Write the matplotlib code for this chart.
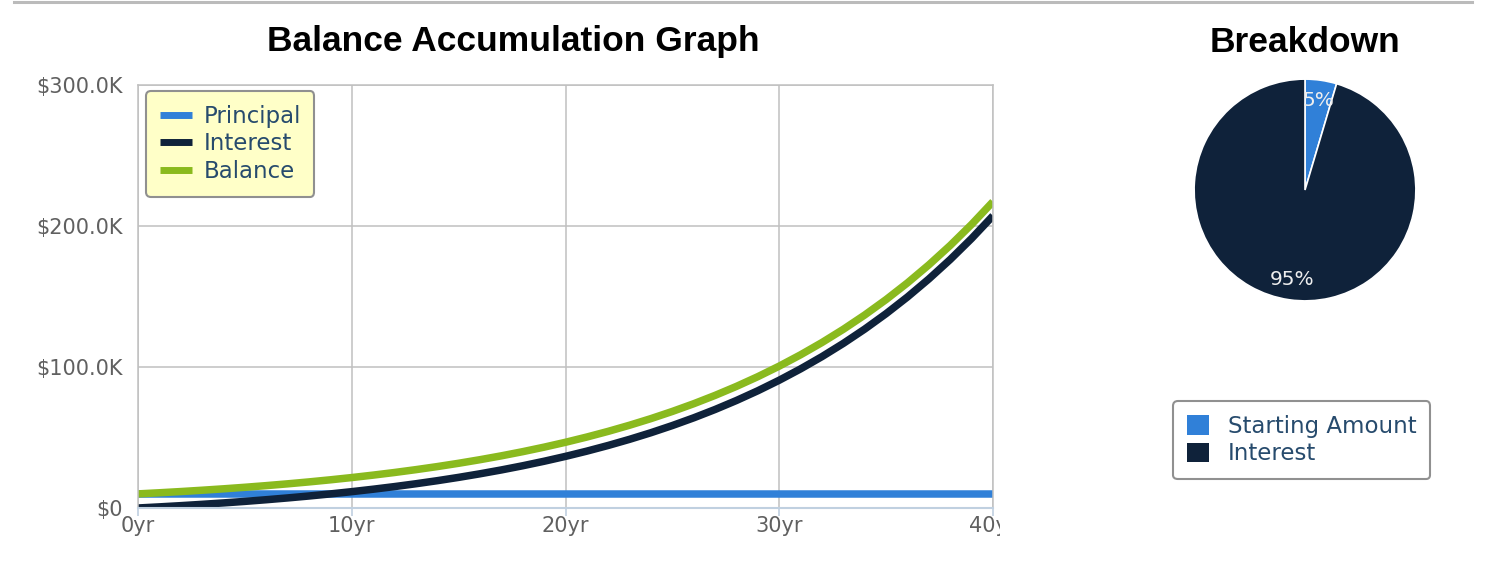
import matplotlib
matplotlib.use("Agg")
import matplotlib.pyplot as plt
from matplotlib.lines import Line2D
from matplotlib.patches import Patch
from matplotlib.transforms import Bbox, TransformedBbox

# values (one point per year)
years = list(range(0, 41))
principal = [10000] * 41
balance = [10000, 10800, 11660, 12600, 13600, 14690, 15870, 17140, 18510, 19990,
           21590, 23320, 25180, 27200, 29370, 31720, 34260, 37000, 39960, 43160,
           46610, 50340, 54370, 58720, 63410, 68490, 73960, 79880, 86270, 93170,
           100630, 108680, 117370, 126760, 136900, 147850, 159680, 172460, 186250, 201150,
           217250]
interest = [0, 800, 1660, 2600, 3600, 4690, 5870, 7140, 8510, 9990,
            11590, 13320, 15180, 17200, 19370, 21720, 24260, 27000, 29960, 33160,
            36610, 40340, 44370, 48720, 53410, 58490, 63960, 69880, 76270, 83170,
            90630, 98680, 107370, 116760, 126900, 137850, 149680, 162460, 176250, 191150,
            207250]
x_ticks = [0, 10, 20, 30, 40]
x_labels = ["0yr", "10yr", "20yr", "30yr", "40yr"]
y_ticks = [0, 100000, 200000, 300000]
y_labels = ["$0", "$100.0K", "$200.0K", "$300.0K"]

pie_labels = ["Starting Amount", "Interest"]
pie_values = [10000, 207250]

blue = "#3080d8"
navy = "#0f223a"
green = "#8aba1e"
text_blue = "#274b6d"
W, H = 1486, 588

fig = plt.figure(figsize=(W / 100, H / 100), dpi=100)
fig.add_artist(Line2D([14 / W, 1472 / W], [1 - 1.5 / H, 1 - 1.5 / H],
                      transform=fig.transFigure, color="#bbbbbb", lw=2.2))

ax = fig.add_axes([138 / W, 1 - 508 / H, (993 - 138) / W, (508 - 85) / H])
ax.plot(years, principal, color=blue, lw=5.4, label="Principal", solid_capstyle="butt")
ax.plot(years, interest, color=navy, lw=5.4, label="Interest", solid_capstyle="butt")
ax.plot(years, balance, color=green, lw=5.4, label="Balance", solid_capstyle="butt")
ax.set_xlim(0, 40)
ax.set_ylim(0, 300000)
ax.set_xticks(x_ticks)
ax.set_xticklabels(x_labels)
ax.set_yticks(y_ticks)
ax.set_yticklabels(y_labels)
ax.grid(True, color="#c0c0c0", lw=1.1)
ax.set_axisbelow(True)
for s in ["top", "right", "left"]:
    ax.spines[s].set_color("#c0c0c0")
    ax.spines[s].set_linewidth(1.1)
ax.spines["bottom"].set_color("#c0d0e0")
ax.spines["bottom"].set_linewidth(1.5)
ax.tick_params(axis="y", length=0, pad=11, labelsize=15, labelcolor="#606060")
ax.tick_params(axis="x", length=6, width=1.2, color="#c0d0e0", pad=0,
               labelsize=15, labelcolor="#606060")
# the last label is cut off at the chart's edge, as in the original
clip = TransformedBbox(Bbox([[0, 0], [1000 / W, 1]]), fig.transFigure)
for lab in ax.get_xticklabels():
    lab.set_clip_on(True)
    lab.set_clip_box(clip)

fig.text(513 / W, 1 - 42 / H, "Balance Accumulation Graph", ha="center", va="center",
         fontsize=25.5, fontweight="bold", family="Liberation Sans")

leg = ax.legend(loc="upper left", bbox_to_anchor=(146 / W, 1 - 91 / H),
                bbox_transform=fig.transFigure, borderaxespad=0, fontsize=16.5,
                labelcolor=text_blue, facecolor="#ffffc8", edgecolor="#909090",
                framealpha=1, fancybox=True, handlelength=1.4, handletextpad=0.5,
                labelspacing=0.2, borderpad=0.6)
leg.get_frame().set_linewidth(1.5)
for h in leg.get_lines():
    h.set_linewidth(5)

# breakdown pie
pax = fig.add_axes([1193 / W, 1 - 302 / H, 224 / W, 224 / H])
wedges, texts, autotexts = pax.pie(pie_values, colors=[blue, navy], startangle=90,
                                   counterclock=False, autopct="%.0f%%", pctdistance=0.82,
                                   wedgeprops=dict(edgecolor="white", linewidth=1.2),
                                   textprops=dict(color="#eeeeee", fontsize=14.5))
pax.set_xlim(-1.01, 1.01)
pax.set_ylim(-1.01, 1.01)
pax.set_aspect("equal")

fig.text(1305 / W, 1 - 42 / H, "Breakdown", ha="center", va="center",
         fontsize=25.5, fontweight="bold", family="Liberation Sans")

handles = [Patch(facecolor=blue, label=pie_labels[0]), Patch(facecolor=navy, label=pie_labels[1])]
pleg = fig.legend(handles=handles, loc="upper left", bbox_to_anchor=(1173 / W, 1 - 401 / H),
                  borderaxespad=0, fontsize=16.5, labelcolor=text_blue, facecolor="white",
                  edgecolor="#909090", framealpha=1, fancybox=True, handlelength=0.95,
                  handleheight=0.95, handletextpad=0.85, labelspacing=0.2, borderpad=0.6)
pleg.get_frame().set_linewidth(1.5)

fig.savefig("out.png", dpi=100)
